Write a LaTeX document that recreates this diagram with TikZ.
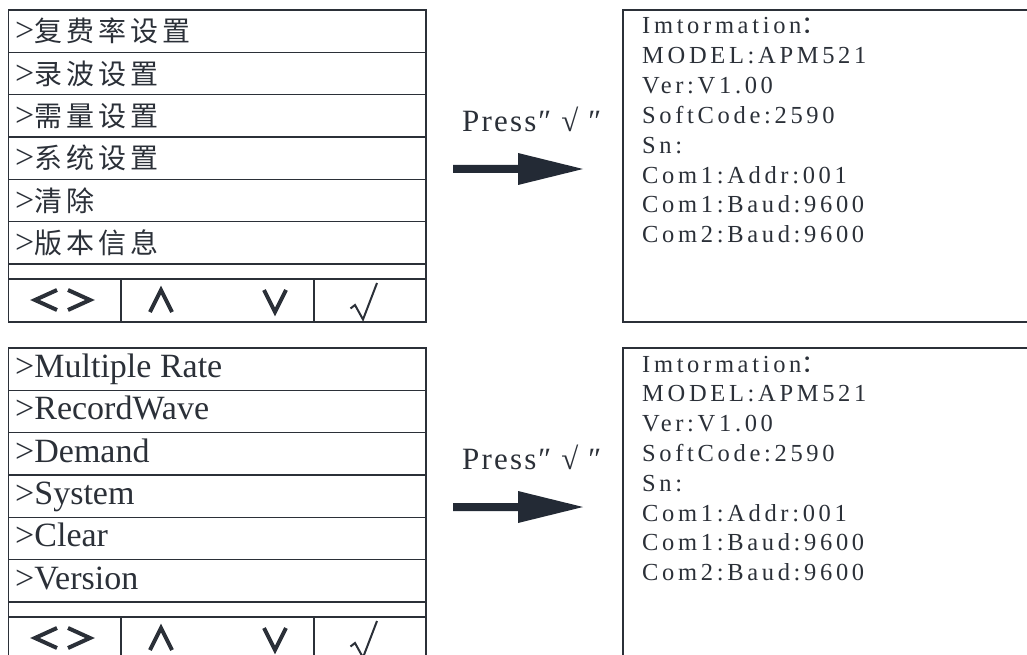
\documentclass[tikz,border=0pt]{standalone}
\usepackage{fontspec}
\setmainfont{Liberation Serif}
\newfontfamily\cjk[LetterSpace=14]{Noto Sans CJK SC}
\newfontfamily\cjkc{Noto Sans CJK SC}
\newfontfamily\enL{Liberation Serif}
\newfontfamily\enP[LetterSpace=7]{Liberation Serif}
\newfontfamily\enR[LetterSpace=15]{Liberation Serif}
\definecolor{ink}{HTML}{2B3038}
\definecolor{arrowc}{HTML}{232A35}
\tikzset{
  frame/.style={draw=ink, line width=1.4pt},
  btn/.style={draw=ink, line width=4pt, line cap=butt, line join=miter},
  tick/.style={draw=ink, line width=2pt, line join=miter},
  zhrow/.style={anchor=base west, inner sep=0pt, text=ink, font=\fontsize{28}{28}\selectfont},
  enrow/.style={anchor=base west, inner sep=0pt, text=ink, font=\fontsize{34}{34}\selectfont\enL},
  info/.style={anchor=base west, inner sep=0pt, text=ink, font=\fontsize{24.5}{24.5}\selectfont\enR},
  presslbl/.style={anchor=base west, inner sep=0pt, text=ink, font=\fontsize{31}{31}\selectfont\enP},
  bigarrow/.style={fill=arrowc, draw=none}
}
\newcommand\menuframe{%
  \draw[frame] (8.5,10) rectangle (426,322);
  \foreach \k in {1,...,6} \draw[frame] (8.5,10+42.33*\k) -- (426,10+42.33*\k);
  \draw[frame] (8.5,279) -- (426,279);
  \draw[frame] (121,279) -- (121,322);
  \draw[frame] (314,279) -- (314,322);
  \draw[btn] (57,290) -- (35,300) -- (57,310);
  \draw[btn] (68,290) -- (90,300) -- (68,310);
  \draw[btn] (150,312) -- (161,290) -- (172,312);
  \draw[btn] (264,290) -- (275,312) -- (286,290);
  \draw[tick] (350.5,308.5) -- (355,305) -- (363,319.5) -- (377,283);
}
\newcommand\infoframe{%
  \draw[frame] (1035,10) -- (623,10) -- (623,322) -- (1035,322);
}
\begin{document}
\begin{tikzpicture}[x=1pt,y=-1pt]
\useasboundingbox (0,0) rectangle (1027,655);
% ---------- top (Chinese) ----------
\menuframe
\foreach \t [count=\i from 0] in {复费率设置,录波设置,需量设置,系统设置,清除,版本信息}
  \node[zhrow] (zh\i) at (15,42+42.33*\i) {{\fontsize{34}{34}\selectfont\enL >}{\cjk\t}};
\infoframe
\foreach \t [count=\i from 0] in {MODEL:APM521,Ver:V1.00,SoftCode:2590,Sn:,Com1:Addr:001,Com1:Baud:9600,Com2:Baud:9600}
  \node[info] (ia\i) at (642,63.8+29.8*\i) {\t};
\node[info] (iaT) at (642,34) {Imtormation{\cjkc ：}};
\node[presslbl] (press1) at (462,131.7) {Press″ √ ″};
\coordinate (a1s) at (453,169);
\coordinate (a1e) at (583,169);
\fill[bigarrow] ([yshift=4pt]a1s) -- ++(65,0) -- ++(0,-12) -- (a1e) -- ++(-65,16) -- ++(0,-12) -- ++(-65,0) -- cycle;
% ---------- bottom (English) ----------
\begin{scope}[shift={(0,338)}]
\menuframe
\foreach \t [count=\i from 0] in {Multiple Rate,RecordWave,Demand,System,Clear,Version}
  \node[enrow] (en\i) at (15,39.5+42.33*\i) {>\t};
\infoframe
\foreach \t [count=\i from 0] in {MODEL:APM521,Ver:V1.00,SoftCode:2590,Sn:,Com1:Addr:001,Com1:Baud:9600,Com2:Baud:9600}
  \node[info] (ib\i) at (642,63.8+29.8*\i) {\t};
\node[info] (ibT) at (642,34) {Imtormation{\cjkc ：}};
\node[presslbl] (press2) at (462,131.7) {Press″ √ ″};
\coordinate (a2s) at (453,169);
\coordinate (a2e) at (583,169);
\fill[bigarrow] ([yshift=4pt]a2s) -- ++(65,0) -- ++(0,-12) -- (a2e) -- ++(-65,16) -- ++(0,-12) -- ++(-65,0) -- cycle;
\end{scope}
\end{tikzpicture}
\end{document}
